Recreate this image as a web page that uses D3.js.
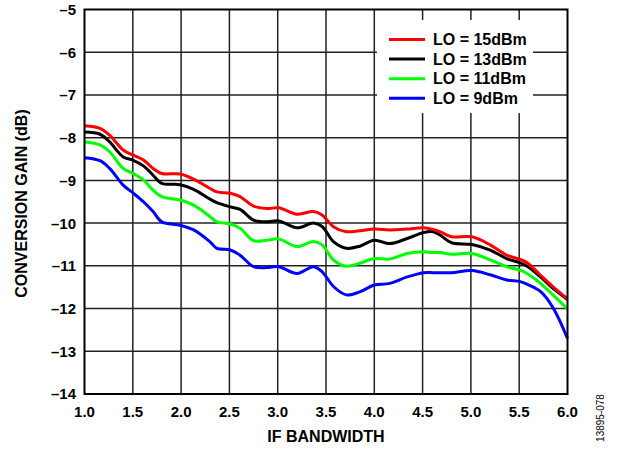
<!DOCTYPE html>
<html><head><meta charset="utf-8">
<script src="https://cdn.jsdelivr.net/npm/d3@7"></script>
<style>body{margin:0;background:#fff}svg{display:block;font-family:"Liberation Sans",Arial,sans-serif}</style>
</head><body><svg id="c" width="618" height="449"></svg>
<script>
const bandwidth = [1.0, 1.16, 1.26, 1.40, 1.505, 1.61, 1.71, 1.80, 1.99, 2.13, 2.30, 2.37, 2.51, 2.61, 2.75, 2.89, 3.01, 3.20, 3.37, 3.46, 3.58, 3.71, 3.85, 4.0, 4.16, 4.34, 4.51, 4.61, 4.68, 4.80, 5.01, 5.20, 5.37, 5.51, 5.59, 5.72, 5.85, 6.0];
const lo15 = [-7.72, -7.78, -7.94, -8.29, -8.41, -8.52, -8.72, -8.84, -8.85, -8.97, -9.19, -9.27, -9.30, -9.38, -9.60, -9.66, -9.64, -9.79, -9.73, -9.81, -10.09, -10.20, -10.18, -10.14, -10.16, -10.14, -10.11, -10.15, -10.20, -10.32, -10.32, -10.51, -10.75, -10.85, -10.94, -11.22, -11.49, -11.77];
const lo13 = [-7.87, -7.92, -8.10, -8.45, -8.53, -8.66, -8.88, -9.07, -9.10, -9.21, -9.44, -9.52, -9.62, -9.68, -9.93, -9.97, -9.95, -10.11, -10.00, -10.08, -10.44, -10.59, -10.54, -10.40, -10.48, -10.36, -10.22, -10.20, -10.28, -10.46, -10.50, -10.63, -10.83, -10.93, -11.02, -11.26, -11.53, -11.79];
const lo11 = [-8.10, -8.17, -8.33, -8.72, -8.84, -8.99, -9.23, -9.38, -9.46, -9.58, -9.85, -9.97, -10.02, -10.12, -10.41, -10.40, -10.37, -10.55, -10.43, -10.51, -10.87, -11.01, -10.94, -10.83, -10.84, -10.71, -10.67, -10.69, -10.69, -10.73, -10.71, -10.86, -11.02, -11.10, -11.19, -11.41, -11.68, -12.01];
const lo9 = [-8.47, -8.54, -8.72, -9.11, -9.30, -9.50, -9.73, -9.97, -10.05, -10.16, -10.44, -10.59, -10.63, -10.75, -11.02, -11.04, -11.02, -11.18, -11.02, -11.14, -11.49, -11.68, -11.61, -11.45, -11.41, -11.26, -11.16, -11.16, -11.16, -11.16, -11.11, -11.21, -11.33, -11.37, -11.44, -11.60, -11.98, -12.70];
const seriesNames = ["LO = 15dBm", "LO = 13dBm", "LO = 11dBm", "LO = 9dBm"];
const seriesColors = ["#ff0000", "#000000", "#00ff00", "#0000ff"];
const xTicks = [1.0, 1.5, 2.0, 2.5, 3.0, 3.5, 4.0, 4.5, 5.0, 5.5, 6.0];
const yTicks = [-5, -6, -7, -8, -9, -10, -11, -12, -13, -14];

const svg = d3.select("#c");
const L = 84.5, R = 567.5, T = 9.5, B = 394;
const x = d3.scaleLinear().domain([1, 6]).range([L, R]);
const y = d3.scaleLinear().domain([-14, -5]).range([B, T]);
const fmtY = d => (d < 0 ? "\u2013" + Math.abs(d) : String(d));

// grid
const g = svg.append("g");
g.selectAll(".vx").data(xTicks.slice(1, -1)).enter().append("line")
  .attr("x1", d => x(d)).attr("x2", d => x(d)).attr("y1", T).attr("y2", B)
  .attr("stroke", "#222").attr("stroke-width", 1.5);
g.selectAll(".hy").data(yTicks.slice(1, -1)).enter().append("line")
  .attr("y1", d => y(d)).attr("y2", d => y(d)).attr("x1", L).attr("x2", R)
  .attr("stroke", "#222").attr("stroke-width", 1.5);

// legend background
svg.append("rect").attr("x", 377).attr("y", 20).attr("width", 156).attr("height", 93).attr("fill", "#fff");

// series
const allSeries = [lo15, lo13, lo11, lo9];
const line = d3.line().x((d, i) => x(bandwidth[i])).y(d => y(d)).curve(d3.curveCatmullRom.alpha(0.5));
allSeries.slice().reverse().forEach((s, k) => {
  const idx = allSeries.length - 1 - k;
  svg.append("path").datum(s).attr("d", line).attr("fill", "none")
    .attr("stroke", seriesColors[idx]).attr("stroke-width", 3).attr("stroke-linejoin", "round");
});

// frame
svg.append("rect").attr("x", L).attr("y", T).attr("width", R - L).attr("height", B - T)
  .attr("fill", "none").attr("stroke", "#000").attr("stroke-width", 2);

// axes labels
svg.append("g").selectAll("text").data(yTicks).enter().append("text")
  .attr("x", 76).attr("y", d => y(d)).attr("dy", "0.36em").attr("text-anchor", "end")
  .attr("font-size", 15).attr("font-weight", "bold").text(fmtY);
svg.append("g").selectAll("text").data(xTicks).enter().append("text")
  .attr("x", d => x(d)).attr("y", 412).attr("dy", "0.36em").attr("text-anchor", "middle")
  .attr("font-size", 15).attr("font-weight", "bold").text(d => d.toFixed(1));

svg.append("text").attr("x", 326).attr("y", 436).attr("dy", "0.36em").attr("text-anchor", "middle")
  .attr("font-size", 16).attr("font-weight", "bold").text("IF BANDWIDTH");
svg.append("text").attr("transform", "translate(21,203.5) rotate(-90)").attr("dy", "0.36em")
  .attr("text-anchor", "middle").attr("font-size", 16).attr("font-weight", "bold").text("CONVERSION GAIN (dB)");
svg.append("text").attr("transform", "translate(600,418) rotate(-90)").attr("dy", "0.36em")
  .attr("text-anchor", "middle").attr("font-size", 10).text("13895-078");

// legend
const lg = svg.append("g");
seriesNames.forEach((n, i) => {
  const yy = 39.5 + i * 19.6;
  lg.append("line").attr("x1", 389).attr("x2", 425).attr("y1", yy).attr("y2", yy)
    .attr("stroke", seriesColors[i]).attr("stroke-width", 3);
  lg.append("text").attr("x", 433).attr("y", yy).attr("dy", "0.36em")
    .attr("font-size", 16).attr("font-weight", "bold").text(n);
});
</script></body></html>
